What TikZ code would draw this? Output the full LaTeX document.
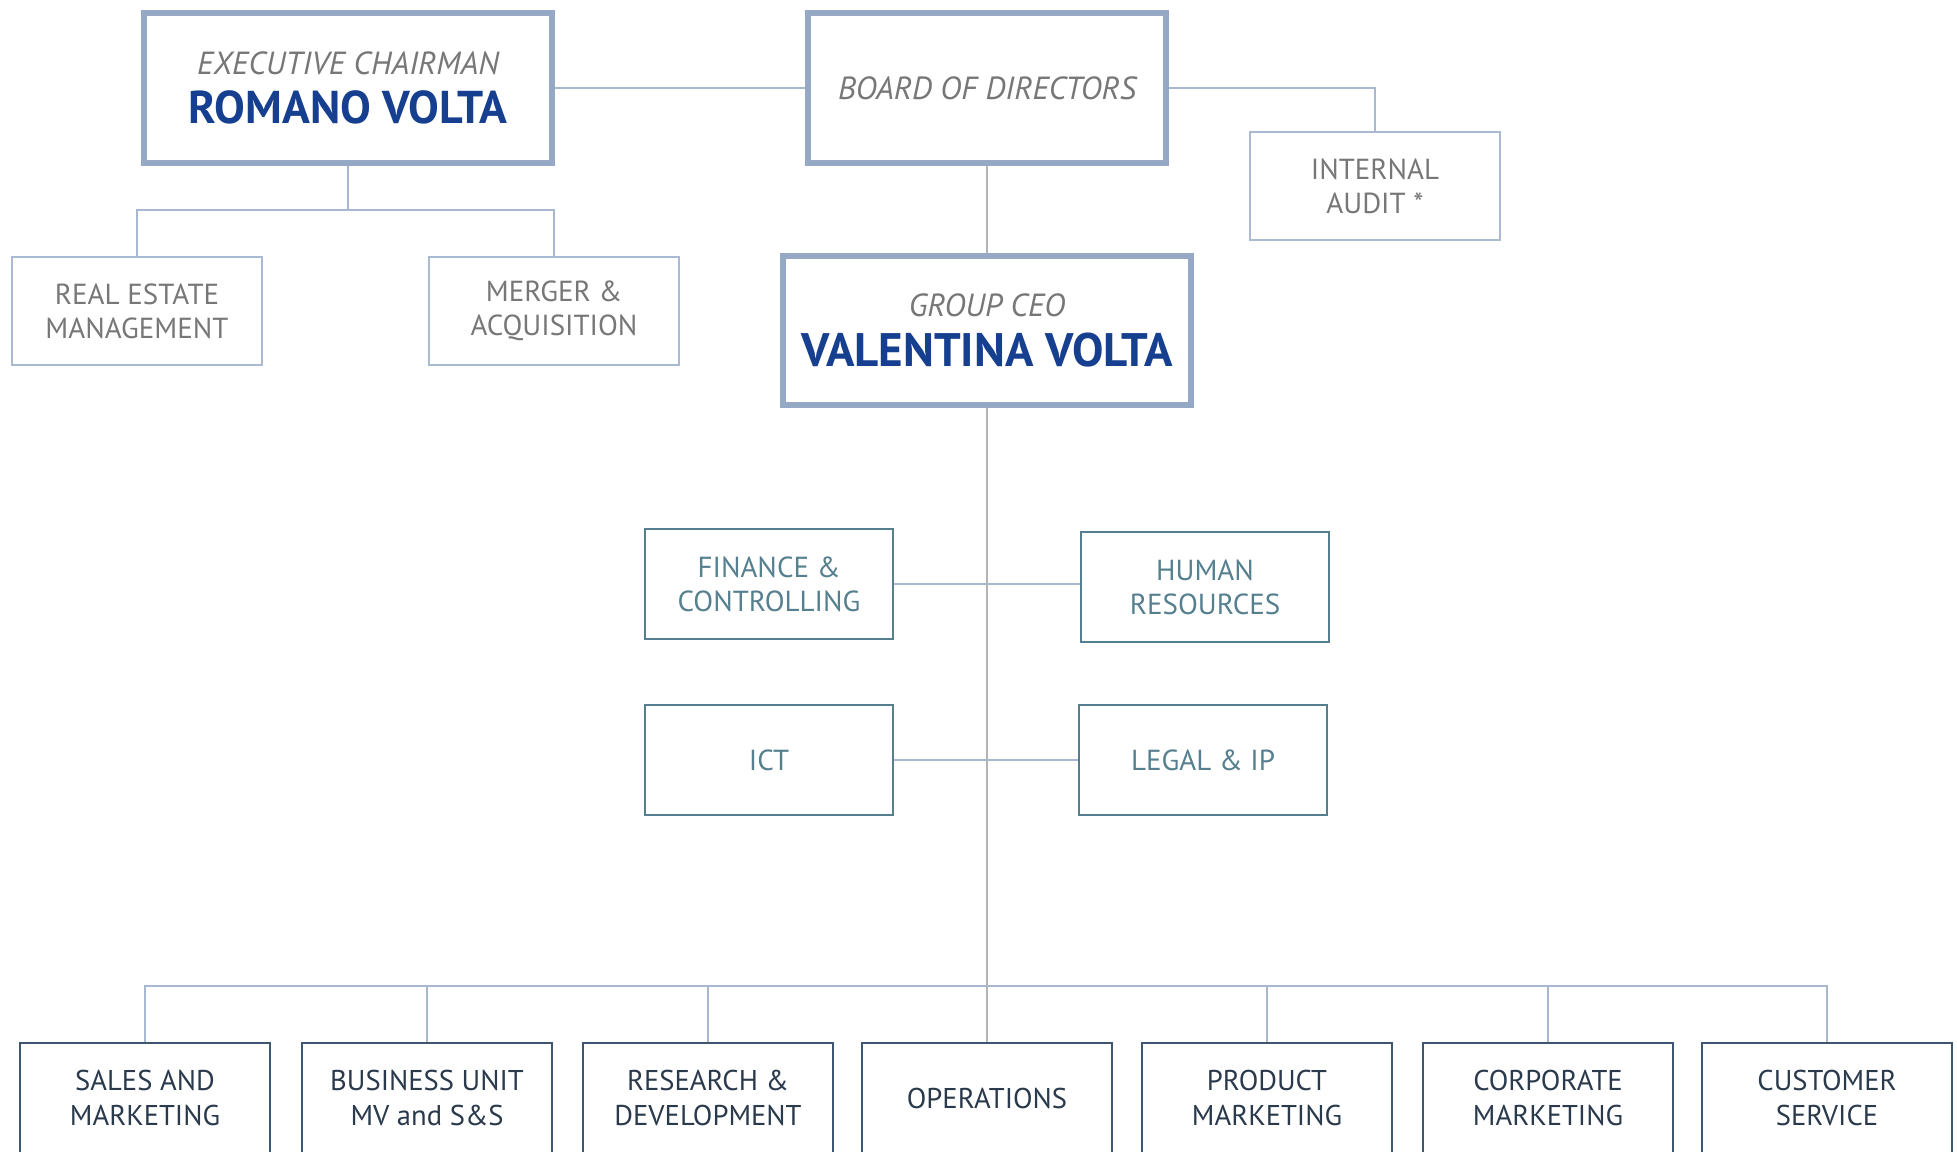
\documentclass[tikz,border=0pt]{standalone}
\usepackage{fontspec}
\setmainfont{PT Sans}
\usepackage{tikz}
\usetikzlibrary{calc}
\usepackage{xcolor}

\definecolor{topframe}{HTML}{95A9C5}
\definecolor{thinframe}{HTML}{A9BAD2}
\definecolor{midframe}{HTML}{557F8E}
\definecolor{midtext}{HTML}{56808F}
\definecolor{botframe}{HTML}{3E5670}
\definecolor{bottext}{HTML}{2A3A4C}
\definecolor{greytext}{HTML}{777777}
\definecolor{namecol}{HTML}{173F8F}
\definecolor{linkcol}{HTML}{A7B7CD}
\definecolor{trunkcol}{HTML}{B4B4B8}

\begin{document}
\begin{tikzpicture}[x=0.5pt, y=-0.5pt,
    headbox/.style={draw=topframe, line width=3pt, rectangle, inner sep=0pt,
        minimum width=204pt, minimum height=75pt, align=center},
    staffbox/.style={draw=thinframe, line width=1pt, rectangle, inner sep=0pt,
        minimum width=125pt, minimum height=54pt, align=center, text=greytext,
        font=\fontsize{14.5}{17}\selectfont},
    midbox/.style={draw=midframe, line width=1pt, rectangle, inner sep=0pt,
        minimum width=124pt, minimum height=55pt, align=center, text=midtext,
        font=\fontsize{14.5}{17}\selectfont},
    deptbox/.style={draw=botframe, line width=1.2pt, rectangle, inner sep=0pt,
        minimum width=125pt, minimum height=55pt, align=center, text=bottext,
        font=\fontsize{14.3}{17.5}\selectfont},
    roletext/.style={text=greytext, font=\fontsize{16}{20}\selectfont\itshape},
    link/.style={draw=linkcol, line width=1pt},
    trunk/.style={draw=trunkcol, line width=1pt}]

    \path[use as bounding box, fill=white] (0,0) rectangle (1957,1151);

    % top level
    \node[headbox] (exec) at (348,88) {%
        {\fontsize{16}{20}\selectfont\itshape\color{greytext}EXECUTIVE CHAIRMAN}\\[7pt]
        {\fontsize{23}{24}\selectfont\bfseries\color{namecol}ROMANO VOLTA}};
    \node[headbox, minimum width=179pt, roletext] (board) at (987,88) {BOARD OF DIRECTORS};
    \node[staffbox] (audit) at (1375,186) {INTERNAL\\AUDIT *};

    \node[staffbox] (realestate) at (137,311) {REAL ESTATE\\MANAGEMENT};
    \node[staffbox] (merger) at (554,311) {MERGER \&\\ACQUISITION};

    \node[headbox, minimum height=74.5pt] (ceo) at (987,330) {%
        {\fontsize{16}{20}\selectfont\itshape\color{greytext}GROUP CEO}\\[7pt]
        {\fontsize{23.5}{24}\selectfont\bfseries\color{namecol}VALENTINA VOLTA}};

    % staff functions
    \node[midbox] (finance) at (769,584) {FINANCE \&\\CONTROLLING};
    \node[midbox] (hr) at (1205,587) {HUMAN\\RESOURCES};
    \node[midbox] (ict) at (769,760) {ICT};
    \node[midbox] (legal) at (1203,760) {LEGAL \& IP};

    % departments
    \node[deptbox] (sales) at (145,1098) {SALES AND\\MARKETING};
    \node[deptbox] (bu) at (427,1098) {BUSINESS UNIT\\MV and S\&S};
    \node[deptbox] (rnd) at (708,1098) {RESEARCH \&\\DEVELOPMENT};
    \node[deptbox] (ops) at (987,1098) {OPERATIONS};
    \node[deptbox] (prodmkt) at (1267,1098) {PRODUCT\\MARKETING};
    \node[deptbox] (corpmkt) at (1548,1098) {CORPORATE\\MARKETING};
    \node[deptbox] (custserv) at (1827,1098) {CUSTOMER\\SERVICE};

    \coordinate (ebus) at (348,210);
    \coordinate (bus) at (987,986);

    % connectors
    \draw[link] (exec.east) -- (board.west);
    \draw[link] (board.east) -| (audit.north);
    \draw[link] (exec.south) -- (ebus) -| (realestate.north);
    \draw[link] (ebus) -| (merger.north);
    \draw[trunk] (board.south) -- (ceo.north);
    \draw[trunk] (ceo.south) -- (bus);
    \draw[link] (finance.east) -- (finance.east -| hr.west);
    \draw[link] (ict.east) -- (legal.west);
    \foreach \d in {sales,bu,rnd,prodmkt,corpmkt,custserv}
        \draw[link] (bus) -| (\d.north);
    \draw[trunk] (bus) -- (ops.north);
\end{tikzpicture}
\end{document}
